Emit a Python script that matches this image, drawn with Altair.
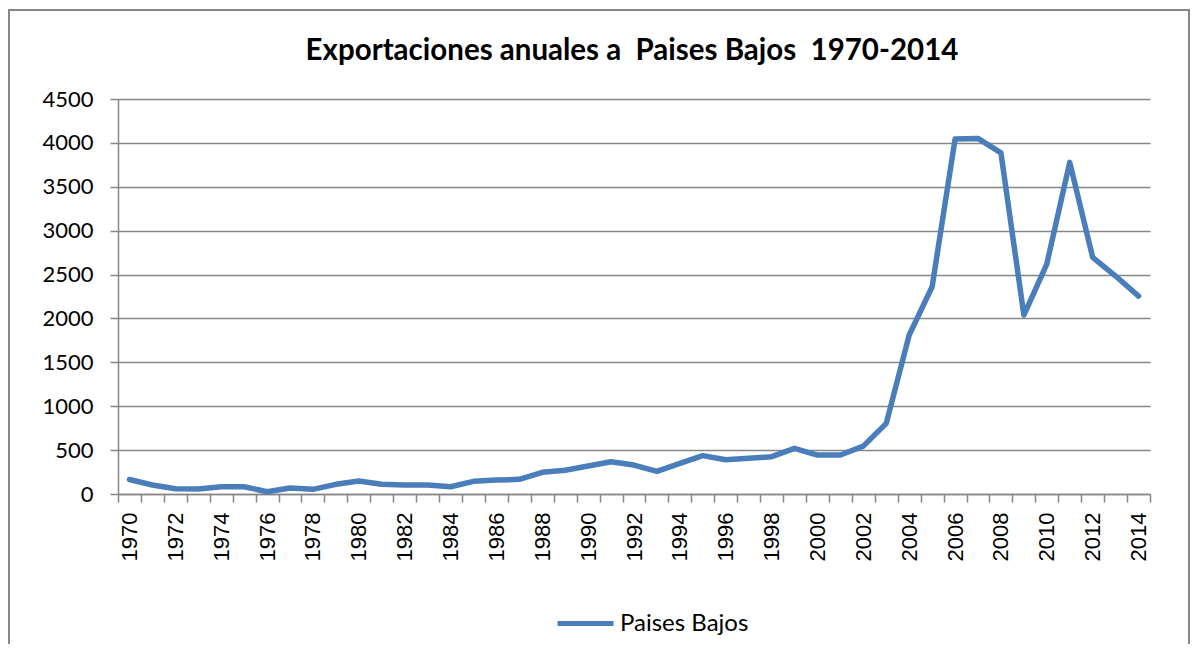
import altair as alt
import pandas as pd

years = list(range(1970, 2015))
values = [165, 102, 60, 57, 83, 83, 26, 68, 53, 110, 148, 110, 102, 102, 83, 144, 159,
          167, 247, 270, 319, 368, 330, 258, 349, 437, 391, 406, 425, 520, 444, 444,
          545, 805, 1811, 2361, 4043, 4051, 3887, 2039, 2620, 3778, 2696, 2483, 2255]
series_name = "Paises Bajos"
y_ticks = list(range(0, 4501, 500))
title_text = "Exportaciones anuales a \u00a0Paises Bajos \u00a01970-2014"

df = pd.DataFrame({"Año": years, "Valor": values, "Serie": [series_name] * len(years)})

W, H = 1032, 395
GRID = "#868686"
BLUE = "#4a7ebb"

line = alt.Chart(df).mark_line(strokeWidth=5.5, strokeJoin="round", strokeCap="round").encode(
    x=alt.X("Año:O",
            scale=alt.Scale(type="band", paddingInner=0, paddingOuter=0),
            axis=alt.Axis(title=None, tickBand="extent", labelAngle=270,
                          labelExpr="datum.value % 2 == 0 ? datum.label : ''",
                          labelFont="Liberation Sans", labelFontSize=22, labelColor="black",
                          labelPadding=10, tickSize=8, tickColor=GRID, tickWidth=1.5,
                          domainColor=GRID, domainWidth=1.5, grid=False)),
    y=alt.Y("Valor:Q",
            scale=alt.Scale(domain=[0, 4500], nice=False),
            axis=alt.Axis(title=None, values=y_ticks, format="d", labelFont="Lato",
                          labelFontSize=22, labelColor="black", labelPadding=17,
                          tickSize=8, tickColor=GRID, tickWidth=1.5, domainColor=GRID,
                          domainWidth=1.5, grid=True, gridColor=GRID, gridWidth=1.5)),
    color=alt.Color("Serie:N", scale=alt.Scale(range=[BLUE]),
                    legend=alt.Legend(title=None, orient="none", legendX=437, legendY=494,
                                      symbolType="stroke", symbolSize=3136,
                                      symbolStrokeWidth=5, labelFont="Lato",
                                      labelFontSize=24, labelColor="black",
                                      labelOffset=4, padding=0)),
)

frame = alt.Chart(df).mark_rect(filled=False, stroke=GRID, strokeWidth=1.5).encode(
    x=alt.value(-109.5), x2=alt.value(1071.5), y=alt.value(-89), y2=alt.value(650)
)

chart = alt.layer(frame, line).properties(
    width=W, height=H,
    autosize=alt.AutoSizeParams(type="none"),
    padding={"left": 110, "top": 91, "right": 40, "bottom": 150},
    title=alt.Title(title_text, font="Lato", fontSize=29.5, fontWeight="bold",
                    color="black", anchor="middle", offset=0, dy=57, dx=-2),
).configure_view(stroke=None)

chart.save("out.html", embed_options={"renderer": "svg", "actions": False})
